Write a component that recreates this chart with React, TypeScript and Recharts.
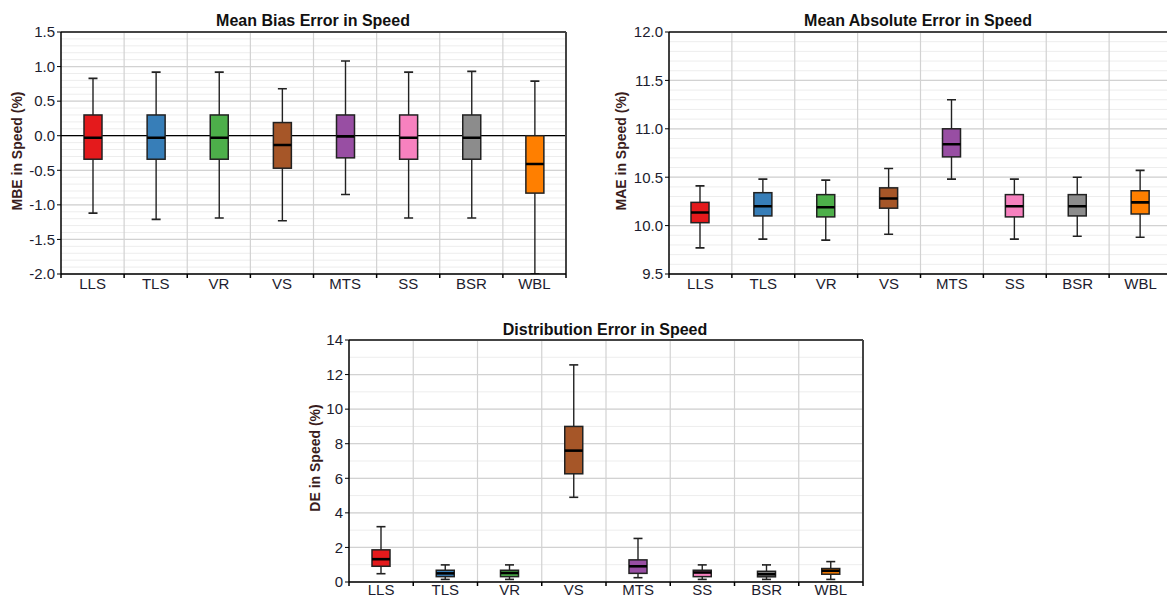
import React from "react";
import { BarChart, Bar, Cell, XAxis, YAxis, CartesianGrid } from "recharts";

const categories = ["LLS", "TLS", "VR", "VS", "MTS", "SS", "BSR", "WBL"];
const boxColors = ["#e41a1c", "#377eb8", "#4daf4a", "#a65628", "#984ea3", "#f781bf", "#8c8c8c", "#ff7f00"];

// Mean Bias Error
const mbeMin = [-1.12, -1.21, -1.19, -1.23, -0.85, -1.19, -1.19, -2.0];
const mbeQ1 = [-0.34, -0.34, -0.34, -0.47, -0.32, -0.34, -0.34, -0.83];
const mbeMedian = [-0.03, -0.03, -0.03, -0.135, -0.01, -0.03, -0.03, -0.41];
const mbeQ3 = [0.3, 0.3, 0.3, 0.19, 0.3, 0.3, 0.3, 0.0];
const mbeMax = [0.83, 0.92, 0.92, 0.68, 1.08, 0.92, 0.93, 0.79];
const mbeTicks = [-2.0, -1.5, -1.0, -0.5, 0.0, 0.5, 1.0, 1.5];

// Mean Absolute Error
const maeMin = [9.77, 9.86, 9.85, 9.91, 10.48, 9.86, 9.89, 9.88];
const maeQ1 = [10.03, 10.1, 10.09, 10.18, 10.71, 10.09, 10.1, 10.12];
const maeMedian = [10.135, 10.2, 10.19, 10.28, 10.84, 10.2, 10.2, 10.24];
const maeQ3 = [10.24, 10.34, 10.32, 10.39, 11.0, 10.32, 10.32, 10.36];
const maeMax = [10.41, 10.48, 10.47, 10.59, 11.3, 10.48, 10.5, 10.57];
const maeTicks = [9.5, 10.0, 10.5, 11.0, 11.5, 12.0];

// Distribution Error
const deMin = [0.48, 0.15, 0.15, 4.9, 0.25, 0.15, 0.15, 0.15];
const deQ1 = [0.91, 0.31, 0.31, 6.26, 0.5, 0.31, 0.3, 0.45];
const deMedian = [1.32, 0.5, 0.52, 7.6, 0.91, 0.55, 0.45, 0.65];
const deQ3 = [1.86, 0.68, 0.68, 9.0, 1.28, 0.68, 0.62, 0.78];
const deMax = [3.2, 0.99, 0.99, 12.56, 2.52, 0.99, 0.99, 1.18];
const deTicks = [0, 2, 4, 6, 8, 10, 12, 14];

const FONT = '"Liberation Sans", Arial, sans-serif';
const TEXT = "#1c1c2e";

function buildRows(min: number[], q1: number[], med: number[], q3: number[], max: number[]) {
  return categories.map((name, i) => ({ name, min: min[i], q1: q1[i], median: med[i], q3: q3[i], max: max[i] }));
}

// minor grid positions
function steps(from: number, to: number, step: number) {
  const out: number[] = [];
  const n = Math.round((to - from) / step);
  for (let i = 0; i <= n; i++) out.push(+(from + i * step).toFixed(4));
  return out;
}

function BoxShape(props: any) {
  const { x, y, width, height, payload, fill } = props;
  const top = Math.min(y, y + height);
  const span = Math.abs(height);
  const range = payload.max - payload.min;
  const toY = (v: number) => top + ((payload.max - v) / range) * span;
  const cx = x + width / 2;
  const cap = 4.5;
  const yQ3 = toY(payload.q3);
  const yQ1 = toY(payload.q1);
  const yMed = toY(payload.median);
  return (
    <g>
      <line x1={cx} x2={cx} y1={top} y2={top + span} stroke="#222" strokeWidth={1.4} />
      <line x1={cx - cap} x2={cx + cap} y1={top} y2={top} stroke="#222" strokeWidth={1.6} />
      <line x1={cx - cap} x2={cx + cap} y1={top + span} y2={top + span} stroke="#222" strokeWidth={1.6} />
      <rect x={x} y={yQ3} width={width} height={Math.max(yQ1 - yQ3, 0)} fill={fill} stroke="#222" strokeWidth={1.5} />
      <line x1={x} x2={x + width} y1={yMed} y2={yMed} stroke="#000" strokeWidth={2.6} />
    </g>
  );
}

function makeTick(halfBand: number, dy: number) {
  return (props: any) => {
    const { x, y, payload, index } = props;
    return (
      <g>
        <line x1={x - halfBand} x2={x - halfBand} y1={y} y2={y + 4} stroke="#000" strokeWidth={1.5} />
        {index === categories.length - 1 && (
          <line x1={x + halfBand} x2={x + halfBand} y1={y} y2={y + 4} stroke="#000" strokeWidth={1.5} />
        )}
        <text x={x} y={y + dy} textAnchor="middle" dominantBaseline="central" fontSize={15} fill={TEXT} fontFamily={FONT}>
          {payload.value}
        </text>
      </g>
    );
  };
}

type BoxChartProps = {
  rows: any[];
  domain: [number, number];
  ticks: number[];
  minor: number[];
  digits: number;
  width: number;
  height: number;
  top: number;
  right: number;
  yAxisWidth: number;
  xAxisHeight: number;
  labelDy: number;
  zeroLine?: boolean;
};

function scaleY(props: any, v: number, domain: [number, number]) {
  const ax = props.yAxis;
  if (ax && typeof ax.scale === "function") return ax.scale(v);
  const o = props.offset;
  return o.top + ((domain[1] - v) / (domain[1] - domain[0])) * o.height;
}

function BoxChart(p: BoxChartProps) {
  const plotW = p.width - p.yAxisWidth - p.right;
  const halfBand = plotW / categories.length / 2;
  return (
    <BarChart
      width={p.width}
      height={p.height}
      data={p.rows}
      margin={{ top: p.top, right: p.right, bottom: 0, left: 0 }}
      barCategoryGap={0}
    >
      <CartesianGrid
        stroke="#ededed"
        vertical={false}
        horizontalCoordinatesGenerator={(gp: any) => p.minor.map((v) => scaleY(gp, v, p.domain))}
      />
      <CartesianGrid
        stroke="#d2d2d2"
        strokeWidth={1.2}
        verticalCoordinatesGenerator={(gp: any) =>
          categories.map((_, i) => gp.offset.left + i * (gp.offset.width / categories.length)).slice(1)
        }
        horizontalCoordinatesGenerator={(gp: any) => p.ticks.map((v) => scaleY(gp, v, p.domain))}
      />
      {p.zeroLine && (
        <CartesianGrid
          stroke="#000"
          strokeWidth={1.3}
          vertical={false}
          horizontalCoordinatesGenerator={(gp: any) => [scaleY(gp, 0, p.domain)]}
        />
      )}
      {/* frame: top and right edges */}
      <CartesianGrid
        stroke="#444"
        strokeWidth={2}
        horizontalCoordinatesGenerator={(gp: any) => [gp.offset.top]}
        verticalCoordinatesGenerator={(gp: any) => [gp.offset.left + gp.offset.width]}
      />
      <XAxis
        dataKey="name"
        height={p.xAxisHeight}
        tickSize={0}
        tickMargin={0}
        tickLine={false}
        axisLine={{ stroke: "#000", strokeWidth: 1.5 }}
        tick={makeTick(halfBand, p.labelDy)}
        interval={0}
      />
      <YAxis
        type="number"
        domain={p.domain}
        ticks={p.ticks}
        interval={0}
        allowDataOverflow
        width={p.yAxisWidth}
        tickSize={4}
        tickMargin={2}
        tickLine={{ stroke: "#000" }}
        axisLine={{ stroke: "#000", strokeWidth: 1.5 }}
        tickFormatter={(v: number) => v.toFixed(p.digits)}
        tick={{ fontSize: 15, fill: TEXT, fontFamily: FONT }}
      />
      <Bar dataKey={(d: any) => [d.min, d.max]} barSize={18} shape={<BoxShape />} isAnimationActive={false}>
        {p.rows.map((_, i) => (
          <Cell key={i} fill={boxColors[i]} />
        ))}
      </Bar>
    </BarChart>
  );
}

const titleStyle: React.CSSProperties = {
  position: "absolute",
  fontFamily: FONT,
  fontWeight: "bold",
  fontSize: 16,
  color: "#111",
  whiteSpace: "nowrap",
  transform: "translate(-50%, -50%)",
};

const yLabelStyle: React.CSSProperties = {
  position: "absolute",
  fontFamily: FONT,
  fontWeight: "bold",
  fontSize: 14,
  color: "#3a1d1d",
  whiteSpace: "nowrap",
  transform: "translate(-50%, -50%) rotate(-90deg)",
};

export default function App() {
  const mbeRows = buildRows(mbeMin, mbeQ1, mbeMedian, mbeQ3, mbeMax);
  const maeRows = buildRows(maeMin, maeQ1, maeMedian, maeQ3, maeMax);
  const deRows = buildRows(deMin, deQ1, deMedian, deQ3, deMax);
  return (
    <div style={{ position: "absolute", left: 0, top: 0, width: 1167, height: 596, background: "#fff", overflow: "hidden" }}>
      <div style={{ position: "absolute", left: 0, top: 0 }}>
        <BoxChart
          rows={mbeRows}
          domain={[-2, 1.5]}
          ticks={mbeTicks}
          minor={steps(-2, 1.5, 0.1)}
          digits={1}
          width={580}
          height={300}
          top={32}
          right={14}
          yAxisWidth={61}
          xAxisHeight={26}
          labelDy={9}
          zeroLine
        />
      </div>
      <div style={{ position: "absolute", left: 600, top: 0 }}>
        <BoxChart
          rows={maeRows}
          domain={[9.5, 12]}
          ticks={maeTicks}
          minor={steps(9.5, 12, 0.1)}
          digits={1}
          width={573}
          height={300}
          top={32}
          right={1}
          yAxisWidth={69}
          xAxisHeight={26}
          labelDy={9}
        />
      </div>
      <div style={{ position: "absolute", left: 290, top: 310 }}>
        <BoxChart
          rows={deRows}
          domain={[0, 14]}
          ticks={deTicks}
          minor={steps(0, 14, 1)}
          digits={0}
          width={590}
          height={286}
          top={30}
          right={17}
          yAxisWidth={59}
          xAxisHeight={14}
          labelDy={7}
        />
      </div>
      <div style={{ ...titleStyle, left: 313, top: 21 }}>Mean Bias Error in Speed</div>
      <div style={{ ...titleStyle, left: 918, top: 21 }}>Mean Absolute Error in Speed</div>
      <div style={{ ...titleStyle, left: 605, top: 330 }}>Distribution Error in Speed</div>
      <div style={{ ...yLabelStyle, left: 17, top: 151 }}>MBE in Speed (%)</div>
      <div style={{ ...yLabelStyle, left: 621, top: 151 }}>MAE in Speed (%)</div>
      <div style={{ ...yLabelStyle, left: 315, top: 458 }}>DE in Speed (%)</div>
    </div>
  );
}
